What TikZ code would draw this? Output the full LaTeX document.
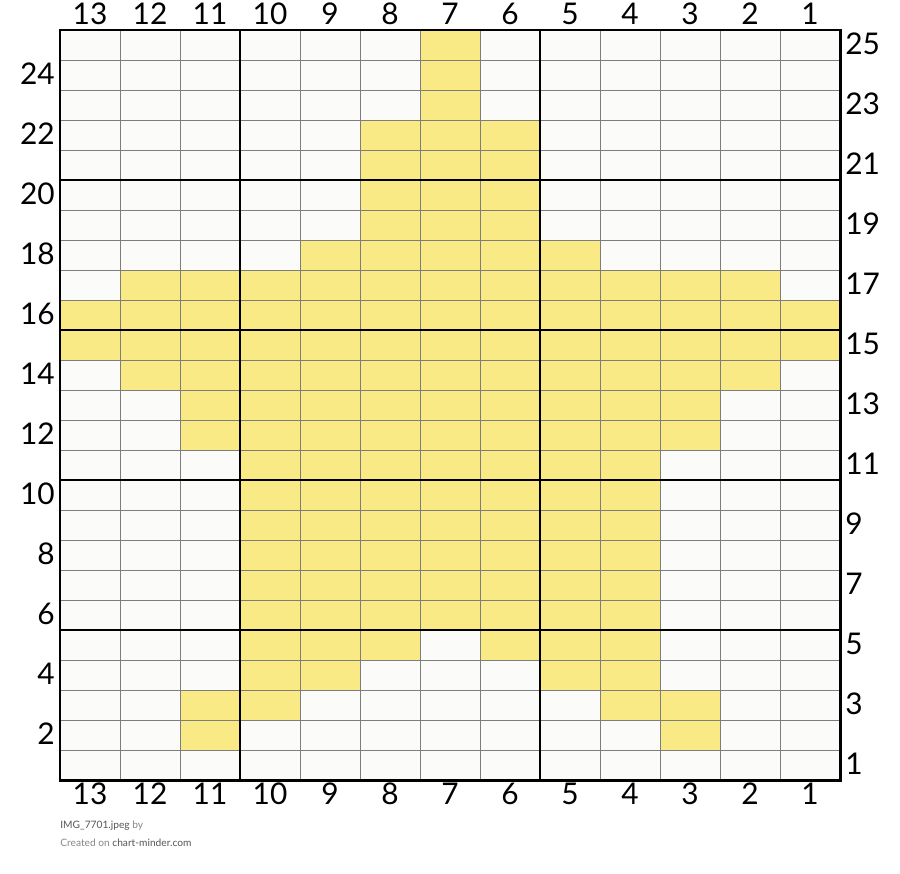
\documentclass[tikz,border=0pt]{standalone}
\usepackage{fontspec}
\setmainfont{Lato}
\usepackage{tikz}
\definecolor{star}{RGB}{250,234,134}
\definecolor{paper}{RGB}{251,251,250}
\definecolor{rule}{RGB}{125,125,125}
\definecolor{note}{RGB}{135,135,135}
\definecolor{notedark}{RGB}{85,85,85}

\begin{document}
\begin{tikzpicture}[x=0.02cm, y=-0.02cm,
  num/.style={font=\fontsize{17}{20}\selectfont, inner sep=0pt},
  fine/.style={draw=rule, line width=0.55pt},
  major/.style={draw=black, line width=1.1pt},
  small/.style={font=\fontsize{5.8}{7}\selectfont, inner sep=0pt, anchor=base west}]
\useasboundingbox (0,0) rectangle (900,873);
\fill[white] (0,0) rectangle (900,873);

\fill[paper] (60,30) rectangle (840,780);

% filled cells (row / chart columns)
\foreach \r/\cl in {25/{7},24/{7},23/{7},
    22/{6,7,8},21/{6,7,8},20/{6,7,8},19/{6,7,8},
    18/{5,...,9},17/{2,...,12},16/{1,...,13},15/{1,...,13},
    14/{2,...,12},13/{3,...,11},12/{3,...,11},
    11/{4,...,10},10/{4,...,10},9/{4,...,10},8/{4,...,10},
    7/{4,...,10},6/{4,...,10},
    5/{4,5,6,8,9,10},4/{4,5,9,10},3/{3,4,10,11},2/{3,11}}
  \foreach \c in \cl
    \fill[star] ({60+(13-\c)*60},{30+(25-\r)*30}) rectangle ++(60,30);

% grid
\foreach \i in {1,...,12}
  \draw[fine] ({60+\i*60},30) -- ++(0,750);
\foreach \j in {1,...,24}
  \draw[fine] (60,{30+\j*30}) -- ++(780,0);

% every fifth line
\draw[major] (240,30) -- (240,780);
\draw[major] (540,30) -- (540,780);
\foreach \y in {180,330,480,630}
  \draw[major] (60,\y) -- (840,\y);
\draw[black, line width=1.7pt] (60,30) rectangle (840,780);

% column numbers
\foreach \c in {1,...,13} {
  \node[num] (top\c) at ({90+(13-\c)*60},14) {\c};
  \node[num] (bot\c) at ({90+(13-\c)*60},794) {\c};
}

% row numbers
\foreach \r in {2,4,...,24}
  \node[num, anchor=east] (lft\r) at (55,{44+(25-\r)*30}) {\r};
\foreach \r in {1,3,...,25}
  \node[num, anchor=west] (rgt\r) at (845,{44+(25-\r)*30}) {\r};

% footer
\node[small, text=notedark] (src) at (60,828) {IMG\_7701.jpeg \textcolor{note}{by}};
\node[small, text=notedark] (made) at (60,846) {\textcolor{note}{Created on} chart-minder.com};

\end{tikzpicture}
\end{document}
